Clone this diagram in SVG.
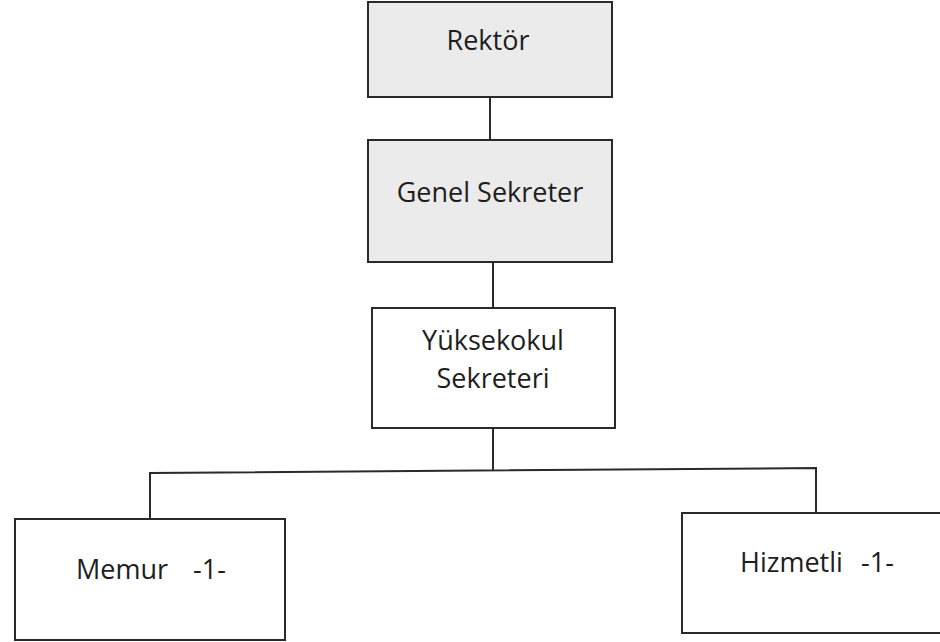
<svg xmlns="http://www.w3.org/2000/svg" width="940" height="642" viewBox="0 0 940 642">
<style>
.box{stroke:#2a2a2a;stroke-width:2;fill:#ffffff}
.gray{fill:#ebebeb}
.lbl{font-family:"Open Sans","Noto Sans",sans-serif;font-size:27px;fill:#1e1e1e}
.c{text-anchor:middle}
.con{stroke:#2a2a2a;stroke-width:2;fill:none}
</style>
<rect width="940" height="642" fill="#ffffff"/>
<g id="connectors">
<line class="con" x1="490" y1="97" x2="490" y2="140"/>
<line class="con" x1="493" y1="262" x2="493" y2="308"/>
<line class="con" x1="493" y1="428" x2="493" y2="471"/>
<polyline class="con" points="150,519 150,473 816,468 816,513"/>
</g>
<g id="rektor">
<rect class="box gray" x="368" y="2" width="244" height="95"/>
<text class="lbl c" x="488" y="50">Rektör</text>
</g>
<g id="genel-sekreter">
<rect class="box gray" x="368" y="140" width="244" height="122"/>
<text class="lbl c" x="490" y="202">Genel Sekreter</text>
</g>
<g id="yuksekokul-sekreteri">
<rect class="box" x="372" y="308" width="243" height="120"/>
<text class="lbl c" x="493" y="350">Yüksekokul</text>
<text class="lbl c" x="493" y="388">Sekreteri</text>
</g>
<g id="memur">
<rect class="box" x="15" y="519" width="270" height="121"/>
<text class="lbl" x="76" y="579">Memur<tspan x="193">-1-</tspan></text>
</g>
<g id="hizmetli">
<rect class="box" x="682" y="513" width="262" height="120"/>
<text class="lbl" x="740" y="572">Hizmetli<tspan x="861">-1-</tspan></text>
</g>
</svg>
